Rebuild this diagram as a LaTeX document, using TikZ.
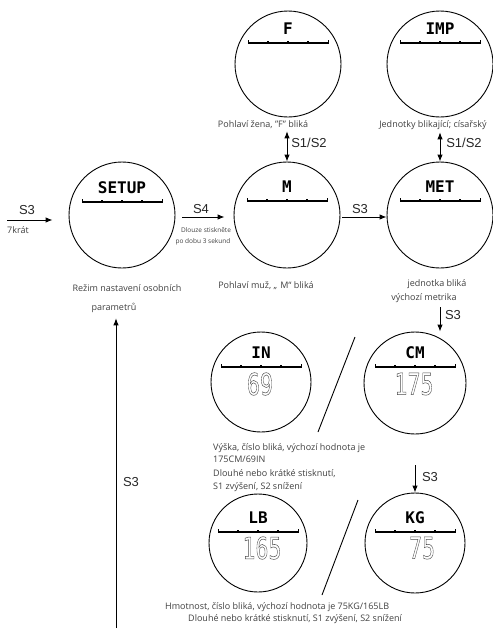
\documentclass[tikz,border=0pt]{standalone}
\usepackage{fontspec}
\setmainfont{Open Sans}
\newfontfamily\keyfont{Liberation Sans}
\newfontfamily\lcdfont{DejaVu Sans Mono}
\usetikzlibrary{arrows.meta, positioning, calc}

\tikzset{
  dial/.style={draw, circle, line width=0.9pt, inner sep=0pt},
  dialcode/.style={font=\lcdfont\bfseries\fontsize{16}{16}\selectfont, inner sep=0pt},
  dialdigits/.style={font=\lcdfont\fontsize{30}{30}\selectfont, text=black!70, inner sep=0pt, xscale=0.72, transform shape},
  note/.style={font=\fontsize{9}{12}\selectfont, text=black!75, inner sep=0pt, anchor=base},
  smallnote/.style={font=\fontsize{6.5}{7}\selectfont, text=black!75, inner sep=0pt, anchor=base},
  keylabel/.style={font=\keyfont\fontsize{13}{13}\selectfont, text=black!85, inner sep=0pt},
  flow/.style={-{Latex[length=7pt,width=5.5pt]}, line width=0.9pt},
  toggle/.style={{Latex[length=7pt,width=5.5pt]}-{Latex[length=7pt,width=5.5pt]}, line width=0.9pt},
}
\newcommand{\hollow}[1]{\special{pdf:literal direct 1 Tr 0.5 w}#1\special{pdf:literal direct 0 Tr}}

\begin{document}
\begin{tikzpicture}[x=1pt, y=-1pt]
  \useasboundingbox (0,0) rectangle (493,630);

  % displays: name/x/y/diameter/code/code y
  \foreach \n/\x/\y/\dm/\lab/\ty in {fem/288/64/106/F/29, imp/440/64/106/IMP/29,
      setup/122/215/106/SETUP/188, male/287/215/106/M/187, met/440/215/106/MET/187,
      hin/261/382/100/IN/353, hcm/415/383/102/CM/353, wlb/258/543/98/LB/518, wkg/415/543/100/KG/518} {
    \node[dial, minimum size=\dm pt] (\n) at (\x,\y) {};
    \node[dialcode] (\n code) at (\x,\ty) {\lab};
    \draw[line width=1.3pt] (\x-40,\ty+14) -- (\x+40,\ty+14);
    \foreach \k in {-40,40} \draw[line width=1pt] (\x+\k,\ty+14.5) -- ++(0,-4);
    \foreach \k in {-20,0,20} \fill (\x+\k-1.2,\ty+14) rectangle ++(2.4,-2.5);
  }
  \foreach \n/\v/\x/\y in {hin/69/260/384, hcm/175/414/384, wlb/165/262/548, wkg/75/422/548}
    \node[dialdigits] (\n value) at (\x,\y) {\hollow{\v}};

  \node[note] (femnote) at (263,127) {Pohlaví žena, "F" bliká};
  \node[note] (impnote) at (433,127) {Jednotky blikající; císařský};
  \node[note] (setupnote) at (127,291) {Režim nastavení osobních};
  \node[note] (setupnote2) at (114,310) {parametrů};
  \node[note] (malenote) at (266,288) {Pohlaví muž, „\hspace{3pt}M“ bliká};
  \node[note] (metnote) at (437,286) {jednotka bliká};
  \node[note] (metnote2) at (424,300) {výchozí metrika};
  \node[note, anchor=base west] (heightnote) at (213,450) {Výška, číslo bliká, výchozí hodnota je};
  \node[note, anchor=base west] (heightnote2) at (213,462) {175CM/69IN};
  \node[note, anchor=base west] (pressnote) at (213,476) {Dlouhé nebo krátké stisknutí,};
  \node[note, anchor=base west] (pressnote2) at (213,489) {S1 zvýšení, S2 snížení};
  \node[note, anchor=base west] (weightnote) at (165,609) {Hmotnost, číslo bliká, výchozí hodnota je 75KG/165LB};
  \node[note, anchor=base west] (weightnote2) at (188,621) {Dlouhé nebo krátké stisknutí, S1 zvýšení, S2 snížení};

  \node[keylabel] (keyin) at (27,210) {S3};
  \node[note, anchor=base west] (countnote) at (7,233) {7krát};
  \node[keylabel] (keyhold) at (201,209) {S4};
  \node[smallnote] (holdnote) at (206,232) {Dlouze stiskněte};
  \node[smallnote] (holdnote2) at (203,243) {po dobu 3 sekund};
  \node[keylabel] (keyunit) at (360,209) {S3};
  \node[keylabel] (keyfem) at (309,143) {S1/S2};
  \node[keylabel] (keyimp) at (464,143) {S1/S2};
  \node[keylabel] (keyheight) at (453,315) {S3};
  \node[keylabel] (keyweight) at (430,477) {S3};
  \node[keylabel] (keyback) at (131,482) {S3};

  \coordinate (start) at (7,220);
  \coordinate (weightkey) at (415,465);
  \coordinate (back) at (116,628);
  \draw[flow, shorten >=16pt] (start) -- (start -| setup.west);
  \draw[flow, shorten <=7pt, shorten >=9pt] ([yshift=-2pt]setup.east) -- ([yshift=-2pt]male.west);
  \draw[flow, shorten <=2pt] ([yshift=-2pt]male.east) -- ([yshift=-2pt]met.west);
  \draw[toggle, shorten <=3pt] (femnote.south -| male.north) -- (male.north);
  \draw[toggle, shorten <=3pt] (impnote.south -| met.north) -- (met.north);
  \draw[flow, shorten <=5pt] (metnote2.south -| met) -- (hcm.north -| met);
  \draw[flow] (weightkey) -- (wkg.north);
  \draw[flow, shorten >=6pt] (back) -- (setupnote2.south -| back);

  \draw[line width=0.9pt] (355,337) -- (318,432);
  \draw[line width=0.9pt] (358,500) -- (322,595);
\end{tikzpicture}
\end{document}
